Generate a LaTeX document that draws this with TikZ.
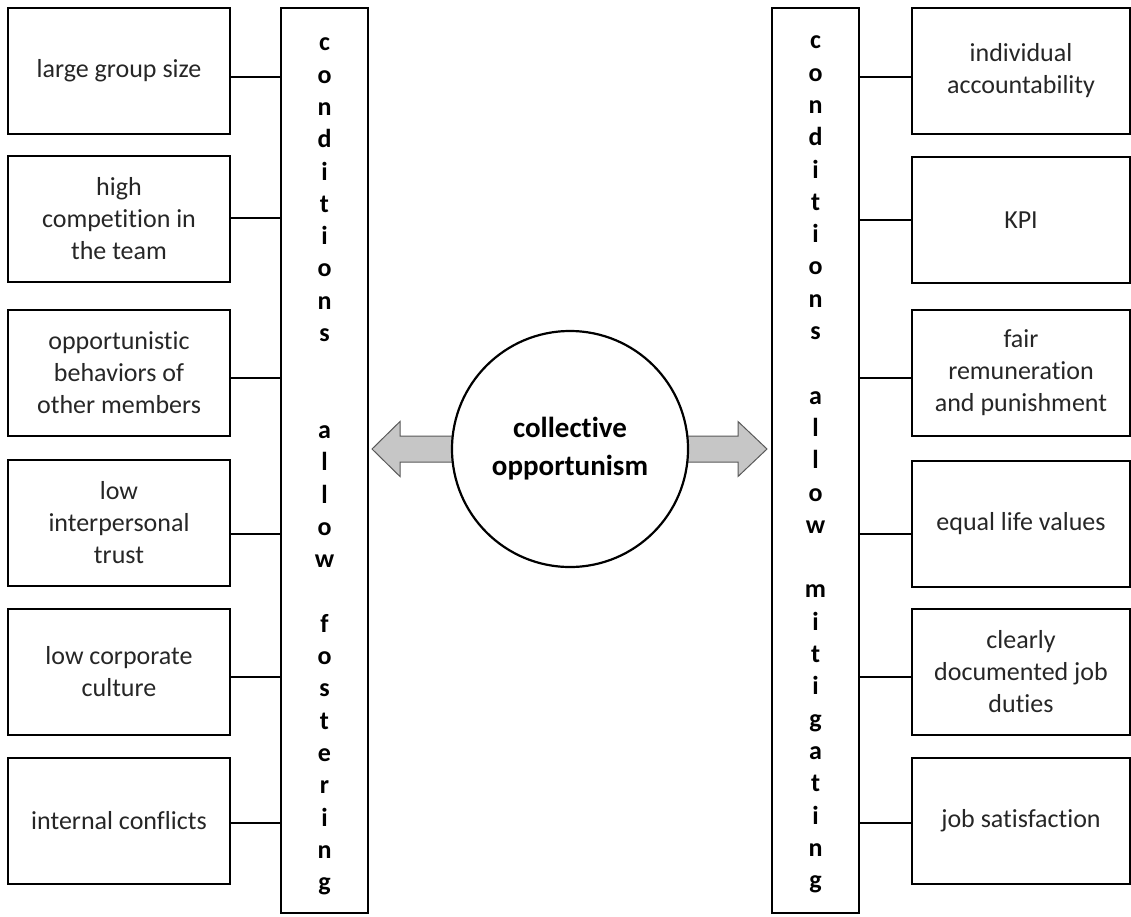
\documentclass[tikz,border=0pt]{standalone}
\usepackage{fontspec}
\setmainfont{Carlito}[Ligatures=NoCommon]
\begin{document}
\begin{tikzpicture}[x=1pt,y=-1pt,
 factor/.style={draw,line width=2.8pt,minimum width=222pt,minimum height=126pt,align=center,text=black!85,font=\fontsize{26}{32}\selectfont},
 column/.style={draw,line width=2.8pt,minimum width=87pt,minimum height=905pt},
 letters/.style={align=center,font=\fontsize{26}{32.3}\selectfont\bfseries},
 link/.style={line width=2.8pt},
 fat/.style={fill=gray!45,draw=gray!70!black,line width=1pt,line join=miter}]
\useasboundingbox (0,0) rectangle (1131,916);
% the two columns
\node[column] (foster) at (324.5,460.5) {};
\node[column] (mitig) at (815.5,460.5) {};
\node[letters] (fosterword) at ([yshift=-6pt]foster.center) {c\\o\\n\\d\\i\\t\\i\\o\\n\\s\\[64.6pt]a\\l\\l\\o\\w\\[32.3pt]f\\o\\s\\t\\e\\r\\i\\n\\g};
\node[letters] (mitigword) at ([yshift=-4pt]mitig.center) {c\\o\\n\\d\\i\\t\\i\\o\\n\\s\\[32.3pt]a\\l\\l\\o\\w\\[32.3pt]m\\i\\t\\i\\g\\a\\t\\i\\n\\g};
% arrows out of the circle
\draw[fat] (570,436) -- (400,436) -- (400,421.5) -- (372,449) -- (400,476.5) -- (400,462) -- (570,462) -- cycle;
\draw[fat] (570,436) -- (738,436) -- (738,421.5) -- (767,449) -- (738,476.5) -- (738,462) -- (570,462) -- cycle;
\node[draw,circle,fill=white,line width=2.2pt,minimum size=236pt,align=center,font=\fontsize{29}{38}\selectfont\bfseries] (core) at (570,449) {collective\\opportunism};
% fostering side
\node[factor] (f1) at (119,71) {large group size};
\node[factor] (f2) at (119,219) {high\\competition in\\the team};
\node[factor] (f3) at (119,373) {opportunistic\\behaviors of\\other members};
\node[factor] (f4) at (119,523) {low\\interpersonal\\trust};
\node[factor] (f5) at (119,672) {low corporate\\culture};
\node[factor] (f6) at (119,821) {internal conflicts};
\draw[link] ([yshift=-6pt]f1.east) -- ([yshift=-6pt]f1.east -| foster.west);
\draw[link] ([yshift=1pt]f2.east) -- ([yshift=1pt]f2.east -| foster.west);
\draw[link] ([yshift=-5pt]f3.east) -- ([yshift=-5pt]f3.east -| foster.west);
\draw[link] ([yshift=-11pt]f4.east) -- ([yshift=-11pt]f4.east -| foster.west);
\draw[link] ([yshift=-5pt]f5.east) -- ([yshift=-5pt]f5.east -| foster.west);
\draw[link] ([yshift=-2pt]f6.east) -- ([yshift=-2pt]f6.east -| foster.west);
% mitigating side
\node[factor,minimum width=218pt] (m1) at (1021,71) {individual\\accountability};
\node[factor,minimum width=218pt] (m2) at (1021,220) {KPI};
\node[factor,minimum width=218pt] (m3) at (1021,373) {fair\\remuneration\\and punishment};
\node[factor,minimum width=218pt] (m4) at (1021,524) {equal life values};
\node[factor,minimum width=218pt] (m5) at (1021,672) {clearly\\documented job\\duties};
\node[factor,minimum width=218pt] (m6) at (1021,821) {job satisfaction};
\draw[link] ([yshift=-6pt]m1.west) -- ([yshift=-6pt]m1.west -| mitig.east);
\draw[link] (m2.west) -- (m2.west -| mitig.east);
\draw[link] ([yshift=-5pt]m3.west) -- ([yshift=-5pt]m3.west -| mitig.east);
\draw[link] ([yshift=-10pt]m4.west) -- ([yshift=-10pt]m4.west -| mitig.east);
\draw[link] ([yshift=-5pt]m5.west) -- ([yshift=-5pt]m5.west -| mitig.east);
\draw[link] ([yshift=-2pt]m6.west) -- ([yshift=-2pt]m6.west -| mitig.east);
\end{tikzpicture}
\end{document}
